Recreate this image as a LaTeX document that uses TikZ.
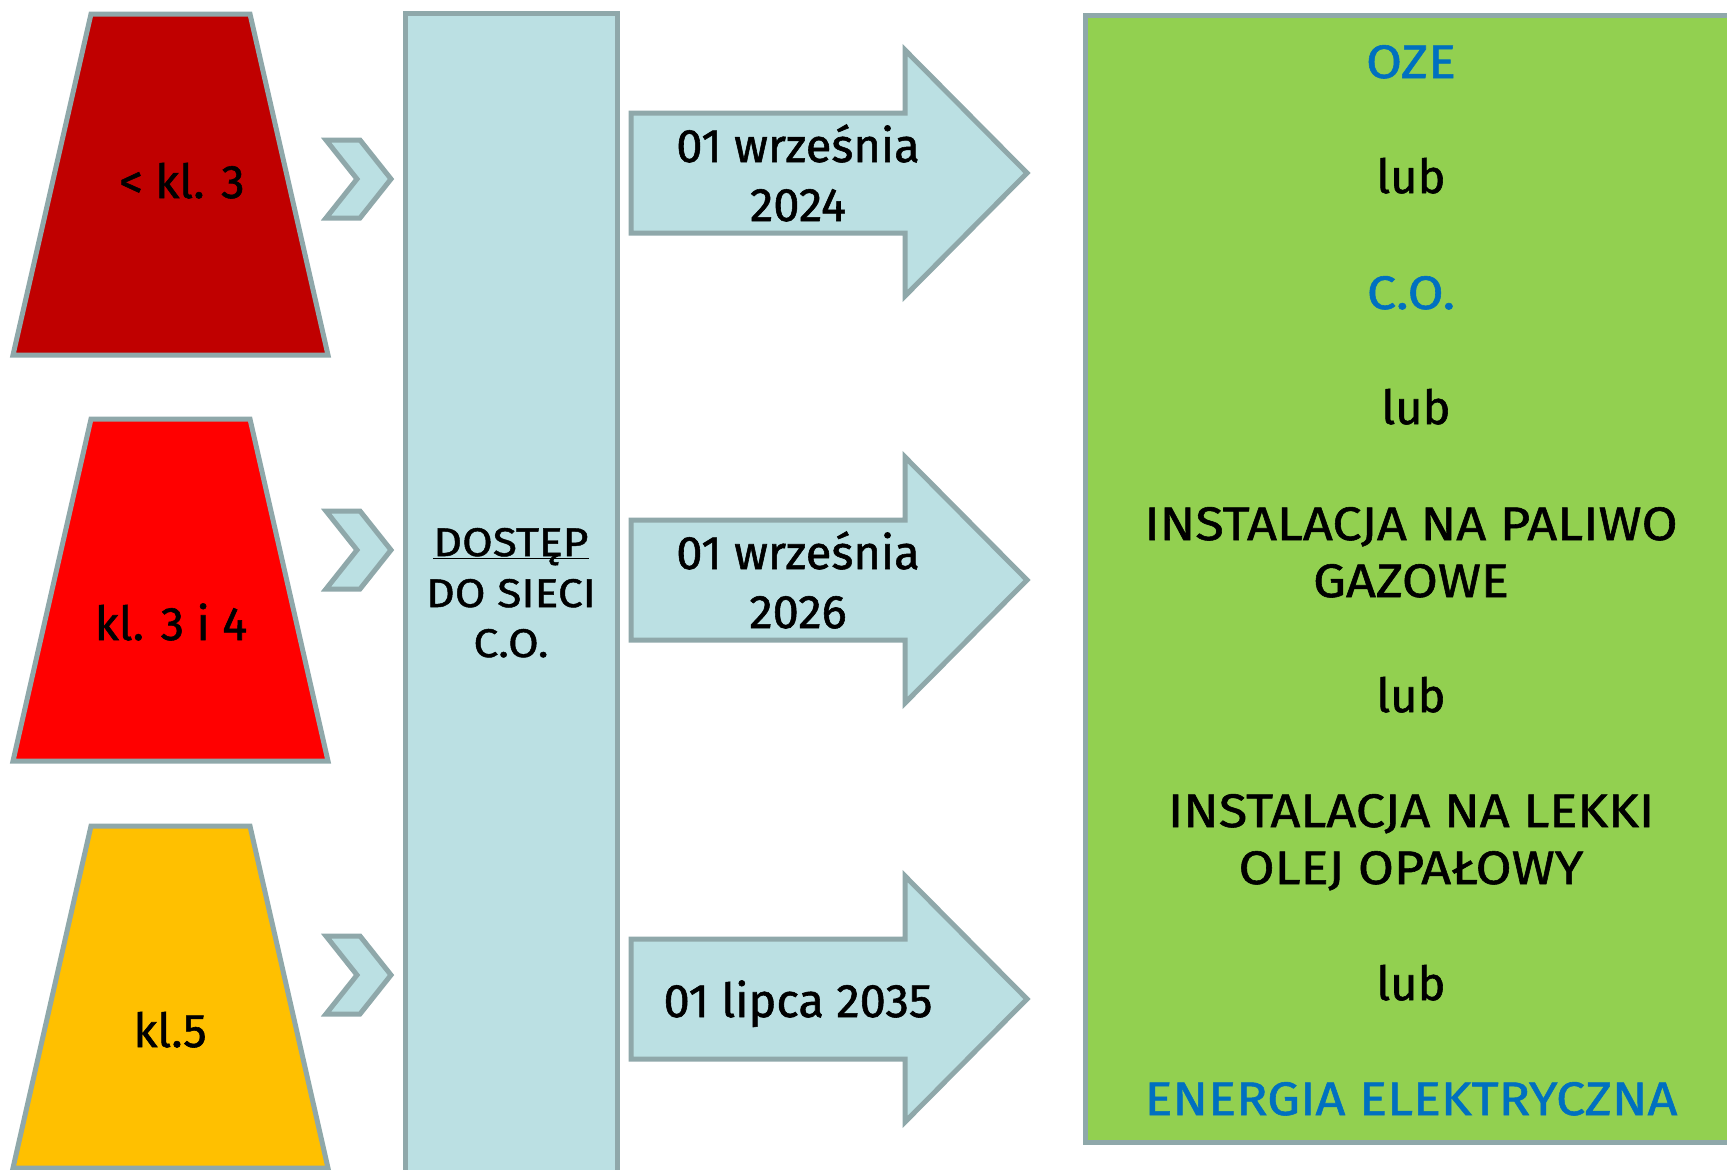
\documentclass[tikz,border=0pt]{standalone}
\usepackage{fontspec}
\setmainfont{Fira Sans}[FakeBold=1.2]
\newfontfamily\wide{Fira Sans}[FakeBold=1.2,FakeStretch=1.11]
\definecolor{edge}{HTML}{8FA8AA}
\definecolor{pale}{HTML}{BBE0E3}
\definecolor{darkred}{HTML}{C00000}
\definecolor{hotred}{HTML}{FF0000}
\definecolor{amber}{HTML}{FFC000}
\definecolor{leaf}{HTML}{92D050}
\definecolor{ozeblue}{HTML}{0070C0}

\begin{document}
\begin{tikzpicture}[x=0.5pt,y=-0.5pt,
  outline/.style={draw=edge,line width=2.5pt},
  txt/.style={anchor=base,inner sep=0pt,font=\fontsize{23.5}{28}\selectfont},
  caps/.style={txt,font=\fontsize{23.5}{28}\wide},
  small/.style={txt,font=\fontsize{20}{24}\wide},
  blue/.style={caps,text=ozeblue}]
\clip (0,0) rectangle (1727,1169);
\draw[outline,fill=darkred] (91,14) -- (250,14) -- (328,355) -- (13,355) -- cycle;
\draw[outline,fill=hotred] (91,419) -- (250,419) -- (328,761) -- (13,761) -- cycle;
\draw[outline,fill=amber] (91,826) -- (250,826) -- (328,1168) -- (13,1168) -- cycle;
\foreach \cy in {179,550,975}
  \draw[outline,fill=pale] (326,{\cy-39}) -- (360,{\cy-39}) -- (391,\cy) -- (360,{\cy+39}) -- (326,{\cy+39}) -- (357,\cy) -- cycle;
\draw[outline,fill=pale] (405,13) rectangle (617,1190);
\foreach \cy in {173,580,999}
  \draw[outline,fill=pale] (631,{\cy-60}) -- (905,{\cy-60}) -- (905,{\cy-123}) -- (1027,\cy) -- (905,{\cy+123}) -- (905,{\cy+60}) -- (631,{\cy+60}) -- cycle;
\draw[outline,fill=leaf] (1085,15) rectangle (1745,1142);
\node[txt] (kl3) at (182,198) {< kl. 3};
\node[txt] (kl34) at (171,640) {kl. 3 i 4};
\node[txt] (kl5) at (170,1047) {kl.5};
\node[small] (dostep) at (511,556) {DOSTĘP};
\draw[line width=0.7pt] ([yshift=-1.2pt]dostep.base west) -- ([yshift=-1.2pt]dostep.base east);
\node[small] (sieci) at (511,607) {DO SIECI};
\node[small] (co) at (511,657) {C.O.};
\node[txt] (wrz24) at (798,162) {01 września};
\node[txt] (rok24) at (798,221) {2024};
\node[txt] (wrz26) at (798,569) {01 września};
\node[txt] (rok26) at (798,628) {2026};
\node[txt] (lip35) at (798,1017) {01 lipca 2035};
\node[blue] (oze) at (1411,78) {OZE};
\node[txt] (lub1) at (1411,193) {lub};
\node[blue] (cogreen) at (1411,309) {C.O.};
\node[txt] (lub2) at (1416,424) {lub};
\node[caps] (gaz1) at (1411,540) {INSTALACJA NA PALIWO};
\node[caps] (gaz2) at (1411,597) {GAZOWE};
\node[txt] (lub3) at (1411,712) {lub};
\node[caps] (olej1) at (1411,827) {INSTALACJA NA LEKKI};
\node[caps] (olej2) at (1411,884) {OLEJ OPAŁOWY};
\node[txt] (lub4) at (1411,1000) {lub};
\node[blue] (prad) at (1411,1115) {ENERGIA ELEKTRYCZNA};
\end{tikzpicture}
\end{document}
